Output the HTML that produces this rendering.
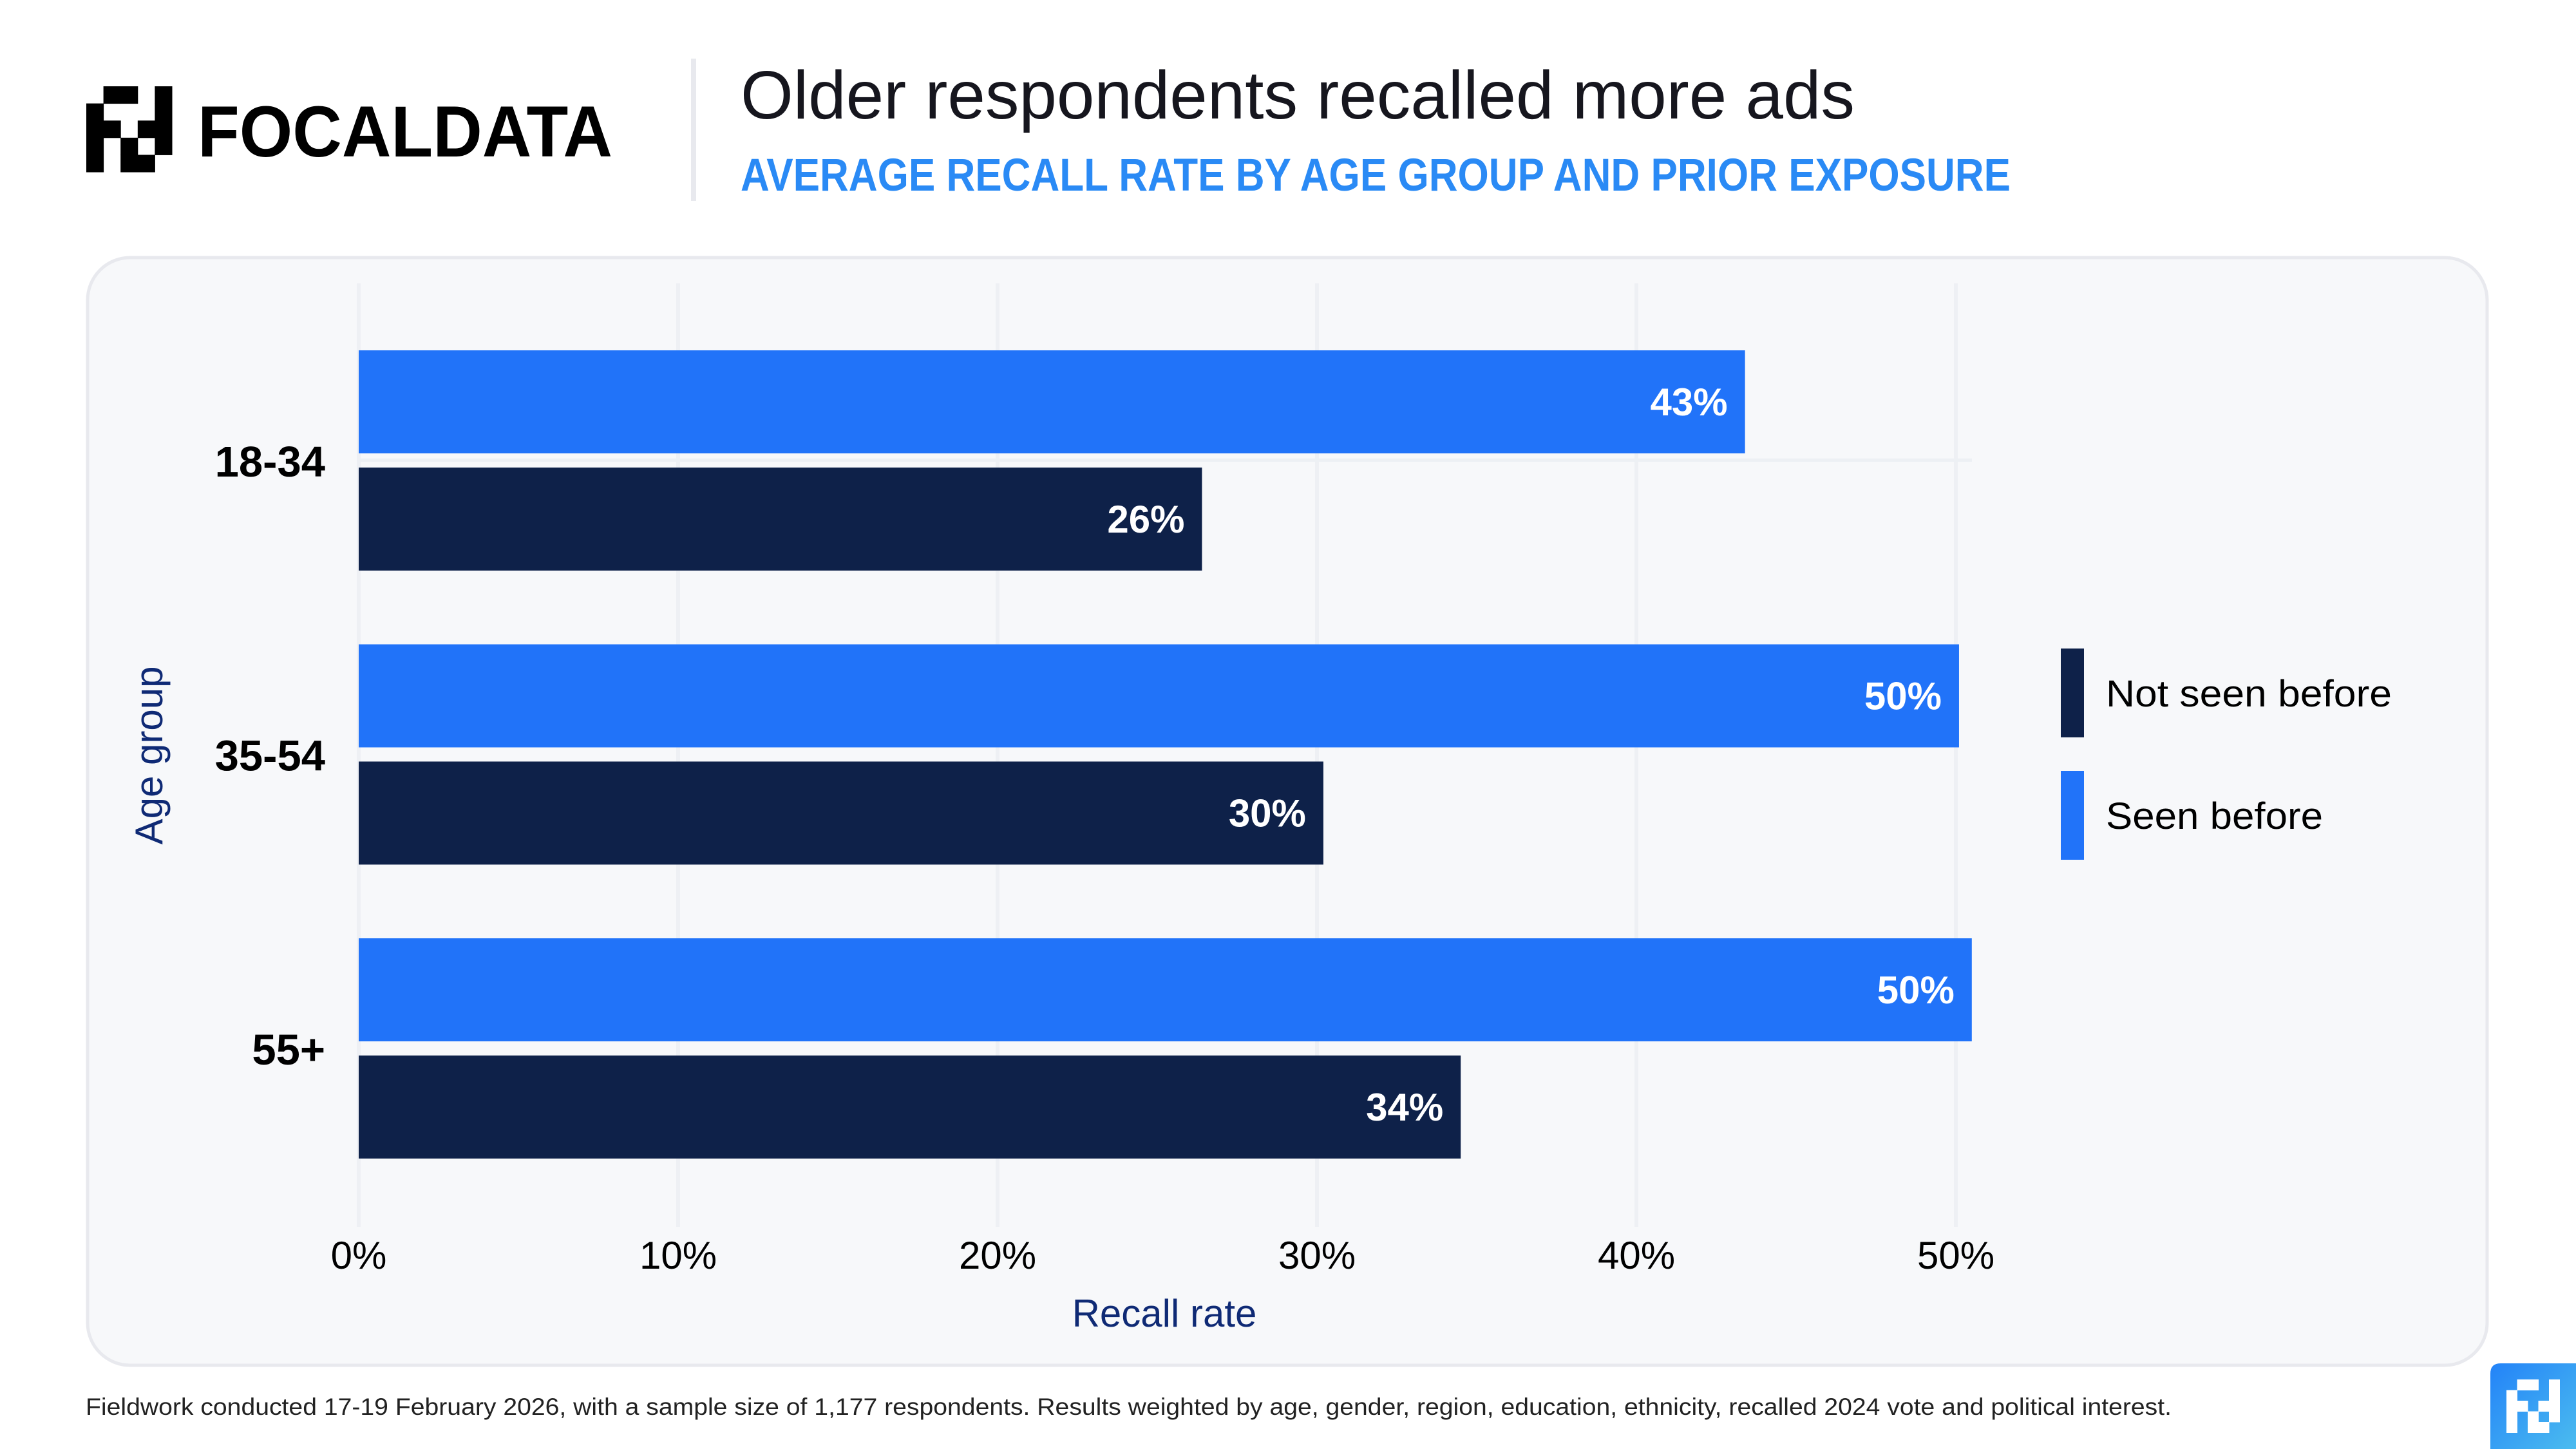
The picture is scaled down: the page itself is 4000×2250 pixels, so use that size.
<!DOCTYPE html>
<html><head><meta charset="utf-8"><style>
html,body{margin:0;padding:0;background:#fff;}
svg{display:block;font-family:"Liberation Sans",sans-serif;}
</style></head><body>
<svg id="chart" width="4000" height="2250" viewBox="0 0 4000 2250" xmlns="http://www.w3.org/2000/svg">
<defs><linearGradient id="g1" x1="0" y1="0" x2="1" y2="1"><stop offset="0" stop-color="#2383f8"/><stop offset="1" stop-color="#4bbcef"/></linearGradient></defs>
<g id="logo"></g>
<text x="307" y="243" font-size="112" font-weight="bold" fill="#000" textLength="644" lengthAdjust="spacingAndGlyphs">FOCALDATA</text>
<rect x="1073" y="91" width="8" height="221" fill="#e8e9ee"/>
<text x="1150" y="184" font-size="106" fill="#16161e" textLength="1730" lengthAdjust="spacingAndGlyphs">Older respondents recalled more ads</text>
<text x="1150" y="296" font-size="71" font-weight="bold" fill="#2a8af5" textLength="1972" lengthAdjust="spacingAndGlyphs">AVERAGE RECALL RATE BY AGE GROUP AND PRIOR EXPOSURE</text>
<rect x="136" y="400" width="3726" height="1720" rx="66" fill="#f7f8fa" stroke="#e8e9ee" stroke-width="5"/>
<g id="grid"></g>
<rect x="557" y="712" width="2505" height="5" fill="#edf0f4"/>
<g id="bars"></g>
<g id="xticks"></g>
<g id="cats"></g>
<text x="1808" y="2060" font-size="60" text-anchor="middle" fill="#0f2a75">Recall rate</text>
<text transform="translate(252,1173) rotate(-90)" font-size="60" text-anchor="middle" fill="#0f2a75">Age group</text>
<g>
<rect x="3200" y="1007" width="36" height="138" fill="#0e2149"/>
<text x="3270" y="1097" font-size="58" fill="#000" textLength="444" lengthAdjust="spacingAndGlyphs">Not seen before</text>
<rect x="3200" y="1197" width="36" height="138" fill="#2173f9"/>
<text x="3270" y="1287" font-size="58" fill="#000" textLength="337" lengthAdjust="spacingAndGlyphs">Seen before</text>
</g>
<text x="133" y="2197" font-size="37" fill="#222" textLength="3239" lengthAdjust="spacingAndGlyphs">Fieldwork conducted 17-19 February 2026, with a sample size of 1,177 respondents. Results weighted by age, gender, region, education, ethnicity, recalled 2024 vote and political interest.</text>
<path d="M3867 2250 V2133 Q3867 2117 3883 2117 H4000 V2250 Z" fill="url(#g1)"/>
<g id="badge"></g>
</svg>
<script>
const categories = ["18-34", "35-54", "55+"];
const seenBefore = [43.4, 50.1, 50.5];
const notSeenBefore = [26.4, 30.2, 34.5];
const seenLabels = ["43%", "50%", "50%"];
const notSeenLabels = ["26%", "30%", "34%"];
const tickValues = [0, 10, 20, 30, 40, 50];
const tickLabels = ["0%", "10%", "20%", "30%", "40%", "50%"];

const NS = "http://www.w3.org/2000/svg";
const x0 = 557, pxPer = 49.6;
const xs = v => x0 + v * pxPer;
const groupTop = i => 544 + i * 456.5;
function mk(tag, attrs, parent, txt){
  const e = document.createElementNS(NS, tag);
  for (const k in attrs) e.setAttribute(k, attrs[k]);
  if (txt !== undefined) e.textContent = txt;
  parent.appendChild(e); return e;
}
const grid = document.getElementById('grid');
const xt = document.getElementById('xticks');
tickValues.forEach((v, i) => {
  const l = mk('rect', {x: xs(v) - 3, y: 440, width: 6, height: 1465, fill: '#eef0f4'}, grid);
  
  
  const t = mk('text', {x: xs(v), y: 1970, 'font-size': 60, 'text-anchor': 'middle', fill: '#000'}, xt, tickLabels[i]);
  
  
});
const bars = document.getElementById('bars');
const cats = document.getElementById('cats');
categories.forEach((c, i) => {
  const top = groupTop(i);
  const b1 = mk('rect', {x: x0, y: top, width: xs(seenBefore[i]) - x0, height: 160, fill: '#2173f9'}, bars);
  
  
  const l1 = mk('text', {x: xs(seenBefore[i]) - 27, y: top + 101, 'font-size': 60, 'font-weight': 'bold', 'text-anchor': 'end', fill: '#fff'}, bars, seenLabels[i]);
  
  
  const b2 = mk('rect', {x: x0, y: top + 182, width: xs(notSeenBefore[i]) - x0, height: 160, fill: '#0e2149'}, bars);
  
  
  const l2 = mk('text', {x: xs(notSeenBefore[i]) - 27, y: top + 283, 'font-size': 60, 'font-weight': 'bold', 'text-anchor': 'end', fill: '#fff'}, bars, notSeenLabels[i]);
  
  
  const cl = mk('text', {x: 505, y: top + 196, 'font-size': 67, 'font-weight': 'bold', 'text-anchor': 'end', fill: '#000'}, cats, c);
  
  
});
const pattern = ["01101","10001","11011","10101","10110"];
function drawLogo(g, x, y, s, color){
  pattern.forEach((row, r) => row.split('').forEach((ch, c) => {
    if (ch === '1') {
      const p = mk('rect', {x: x + c * s, y: y + r * s, width: s + 0.5, height: s + 0.5, fill: color}, g);
      
      
    }
  }));
}
drawLogo(document.getElementById('logo'), 134, 134, 26.6, '#000');
drawLogo(document.getElementById('badge'), 3892, 2142, 16.5, '#fff');
</script>
</body></html>
